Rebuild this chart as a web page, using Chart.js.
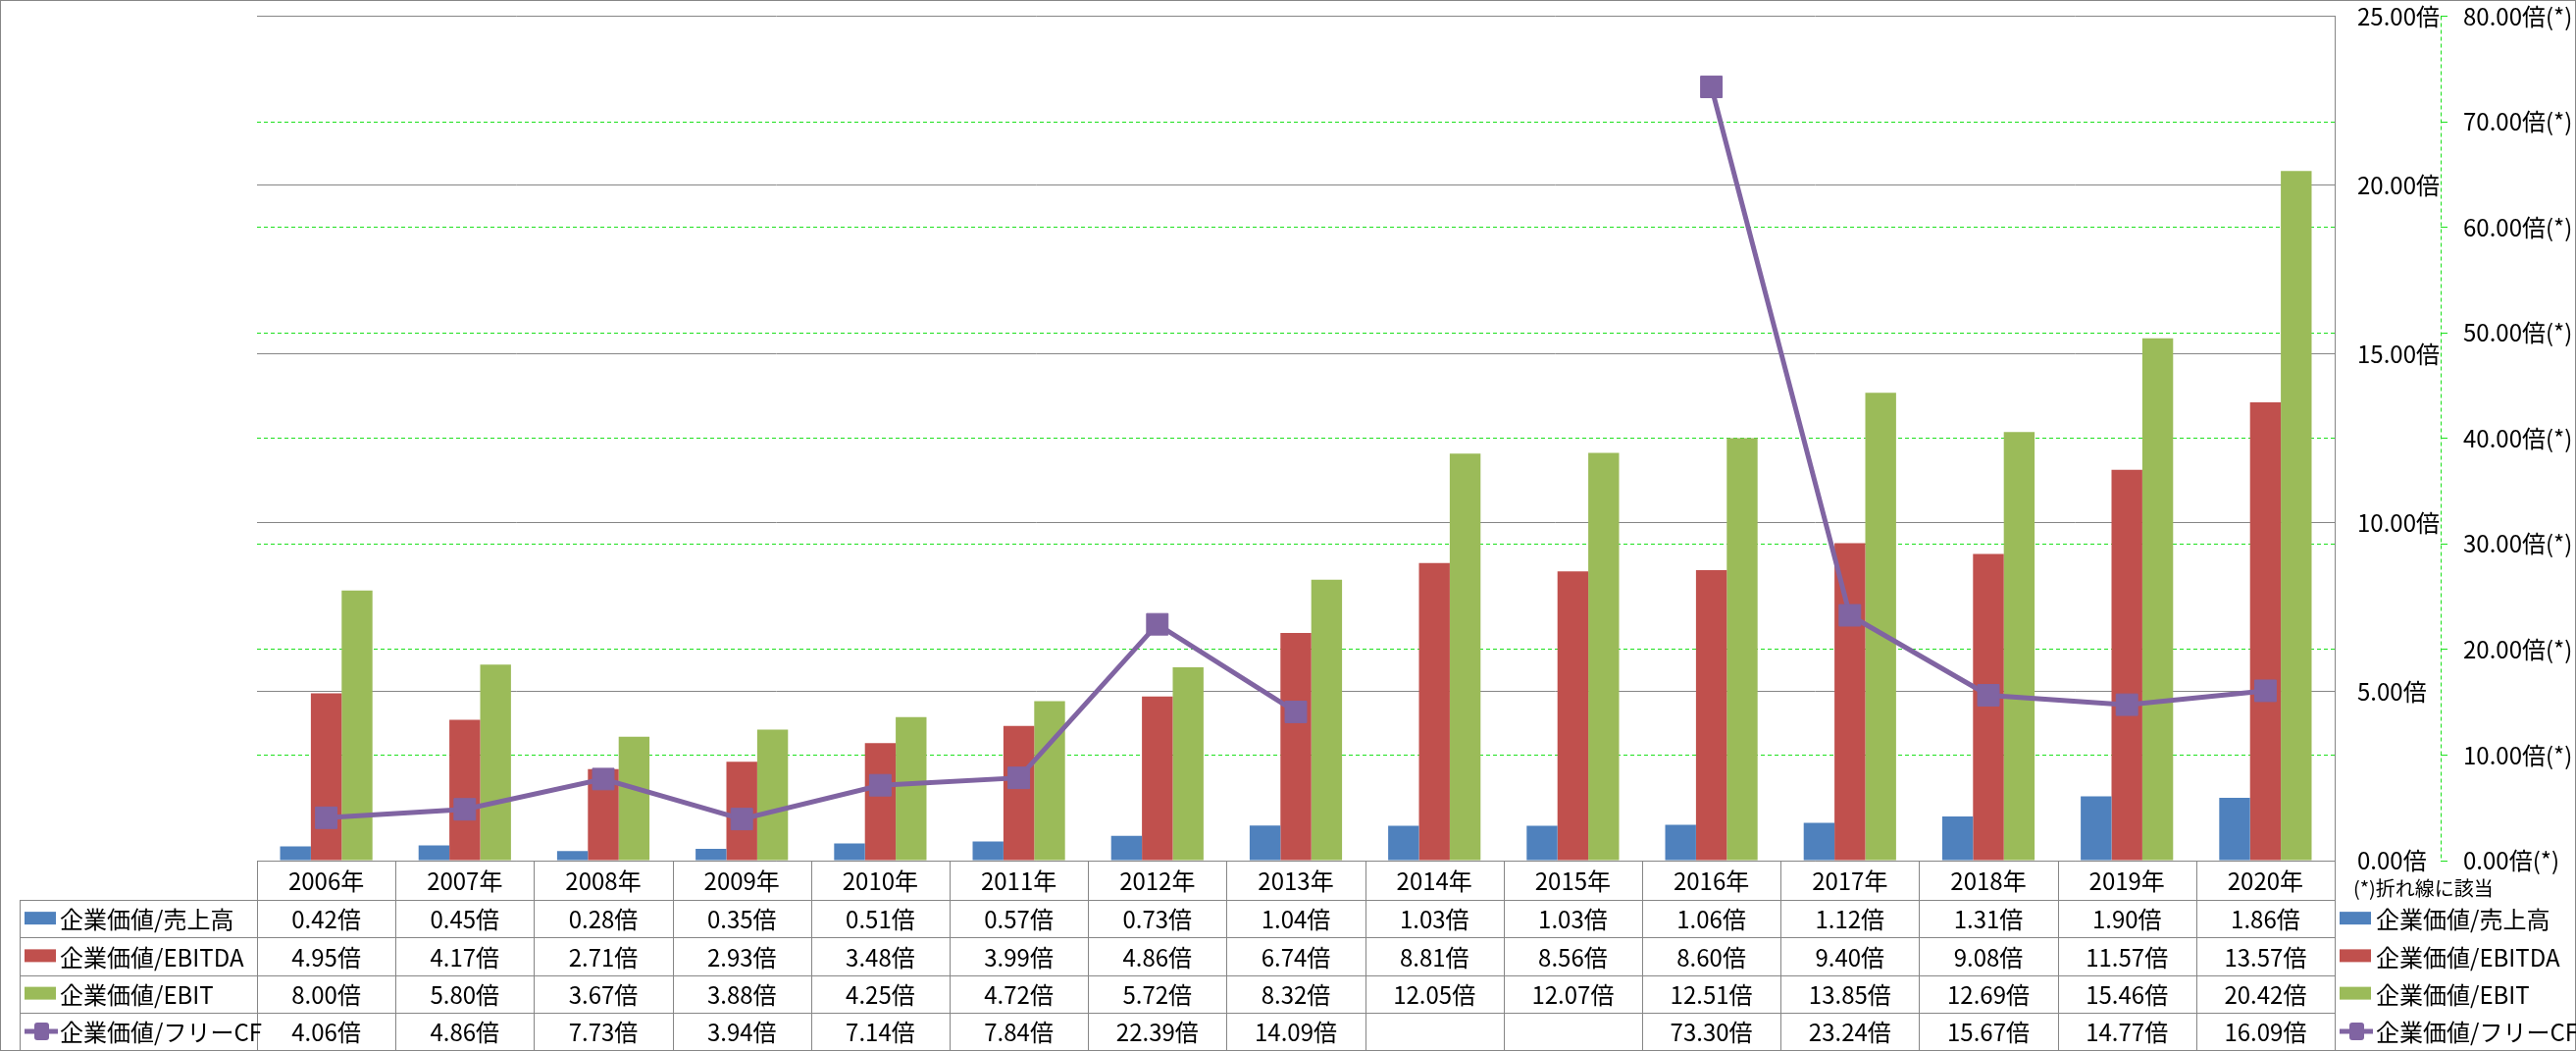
<!DOCTYPE html>
<html lang="ja">
<head>
<meta charset="utf-8">
<title>企業価値倍率の推移</title>
<script src="https://cdn.jsdelivr.net/npm/chart.js@4.4.1/dist/chart.umd.min.js"></script>
<style>
  html, body { margin: 0; padding: 0; background: #fff; }
  canvas { display: block; }
</style>
</head>
<body>
<canvas id="chart" width="2626" height="1071"></canvas>
<script>
"use strict";
// data
const years = ["2006年", "2007年", "2008年", "2009年", "2010年", "2011年", "2012年", "2013年",
  "2014年", "2015年", "2016年", "2017年", "2018年", "2019年", "2020年"];
const evSales = [0.42, 0.45, 0.28, 0.35, 0.51, 0.57, 0.73, 1.04, 1.03, 1.03, 1.06, 1.12, 1.31, 1.90, 1.86];
const evEbitda = [4.95, 4.17, 2.71, 2.93, 3.48, 3.99, 4.86, 6.74, 8.81, 8.56, 8.60, 9.40, 9.08, 11.57, 13.57];
const evEbit = [8.00, 5.80, 3.67, 3.88, 4.25, 4.72, 5.72, 8.32, 12.05, 12.07, 12.51, 13.85, 12.69, 15.46, 20.42];
const evFcf = [4.06, 4.86, 7.73, 3.94, 7.14, 7.84, 22.39, 14.09, null, null, 73.30, 23.24, 15.67, 14.77, 16.09];
const seriesNames = ["企業価値/売上高", "企業価値/EBITDA", "企業価値/EBIT", "企業価値/フリーCF"];
const barAxis = { min: 0, max: 25, step: 5, suffix: "倍" };
const lineAxis = { min: 0, max: 80, step: 10, suffix: "倍(*)" };
const noteText = "(*)折れ線に該当";

const FONT = '"Noto Sans CJK JP", "Noto Sans", sans-serif';
const GREY = "#868686";
const GREEN = "#1ee01e";
const colors = ["#4f81bd", "#c0504d", "#9bbb59", "#8064a2"];

function drawKey(ctx, kx, ky, i) {
  if (i < 3) {
    ctx.fillStyle = colors[i];
    ctx.fillRect(kx, ky - 7, 32, 13);
    return;
  }
  ctx.strokeStyle = colors[3];
  ctx.lineWidth = 5;
  ctx.setLineDash([]);
  ctx.beginPath();
  ctx.moveTo(kx, ky);
  ctx.lineTo(kx + 34, ky);
  ctx.stroke();
  ctx.fillStyle = colors[3];
  ctx.beginPath();
  ctx.roundRect(kx + 10, ky - 9, 15, 18, 3);
  ctx.fill();
}

// data table + legend keys under the plot, lined up with the category scale
const tablePlugin = {
  id: "dataTable",
  afterDraw(chart) {
    const ctx = chart.ctx, area = chart.chartArea;
    const xs = chart.scales.x, y2 = chart.scales.y2;
    const colW = (area.right - area.left) / years.length;
    const headH = 40, rowH = 38.25, labelLeft = 20;
    const top = area.bottom, rowTop = top + headH;
    const bottom = rowTop + rowH * 4;
    const rows = [evSales, evEbitda, evEbit, evFcf];

    ctx.save();
    ctx.strokeStyle = GREY;
    ctx.lineWidth = 1;
    ctx.beginPath();
    ctx.moveTo(area.left, Math.round(top) + 0.5);
    ctx.lineTo(area.right, Math.round(top) + 0.5);
    for (let r = 0; r <= 4; r++) {
      const yy = Math.round(rowTop + r * rowH) + 0.5;
      ctx.moveTo(labelLeft, yy);
      ctx.lineTo(area.right, yy);
    }
    for (let i = 0; i <= years.length; i++) {
      const xx = Math.round(area.left + i * colW) + 0.5;
      ctx.moveTo(xx, top);
      ctx.lineTo(xx, bottom);
    }
    ctx.moveTo(labelLeft + 0.5, rowTop);
    ctx.lineTo(labelLeft + 0.5, bottom);
    ctx.stroke();
    ctx.strokeRect(0.5, 0.5, chart.width - 1, chart.height - 1);

    ctx.fillStyle = "#000";
    ctx.font = "24px " + FONT;
    ctx.textAlign = "center";
    ctx.textBaseline = "middle";
    years.forEach((yr, i) => ctx.fillText(yr, xs.getPixelForValue(i), top + headH / 2 + 1));
    rows.forEach((vals, r) => vals.forEach((v, i) => {
      if (v !== null) ctx.fillText(v.toFixed(2) + "倍", xs.getPixelForValue(i), rowTop + r * rowH + rowH / 2 + 1);
    }));

    rows.forEach((_, r) => {
      const cy = rowTop + r * rowH + rowH / 2;
      drawKey(ctx, labelLeft + 5, cy, r);
      drawKey(ctx, area.right + 5, cy, r);
      ctx.fillStyle = "#000";
      ctx.font = "24px " + FONT;
      ctx.textAlign = "left";
      ctx.fillText(seriesNames[r], labelLeft + 41, cy + 1);
      ctx.fillText(seriesNames[r], area.right + 42, cy + 1);
    });

    ctx.font = "20px " + FONT;
    ctx.fillText(noteText, area.right + 19, top + 28);

    // dashed line of the right-hand (*) axis
    const ax = Math.round(y2.left) + 0.5;
    ctx.strokeStyle = GREEN;
    ctx.lineWidth = 1;
    ctx.setLineDash([4, 3]);
    ctx.beginPath();
    ctx.moveTo(ax, area.top);
    ctx.lineTo(ax, area.bottom);
    ctx.stroke();
    ctx.restore();
  }
};

const barSets = [evSales, evEbitda, evEbit].map((d, i) => ({
  type: "bar",
  label: seriesNames[i],
  data: d,
  backgroundColor: colors[i],
  yAxisID: "y",
  order: 2,
  barPercentage: 1,
  categoryPercentage: 0.667
}));

new Chart(document.getElementById("chart"), {
  data: {
    labels: years,
    datasets: barSets.concat([{
      type: "line",
      label: seriesNames[3],
      data: evFcf,
      yAxisID: "y2",
      order: 1,
      borderColor: colors[3],
      backgroundColor: colors[3],
      borderWidth: 5,
      tension: 0,
      spanGaps: false,
      pointStyle: "rect",
      pointRadius: 15.5,
      pointBorderWidth: 1,
      pointBackgroundColor: colors[3],
      pointBorderColor: colors[3]
    }])
  },
  options: {
    responsive: false,
    animation: false,
    layout: { padding: { left: 262, top: 16, bottom: 194, right: 0 } },
    plugins: { legend: { display: false }, tooltip: { enabled: false } },
    scales: {
      x: { display: false, offset: true },
      y: {
        position: "right",
        weight: 1,
        min: barAxis.min,
        max: barAxis.max,
        ticks: {
          stepSize: barAxis.step,
          padding: 23,
          color: "#000",
          font: { size: 24, family: FONT },
          callback: v => v.toFixed(2) + barAxis.suffix
        },
        grid: { color: GREY, drawTicks: false },
        border: { display: true, color: GREY },
        afterFit: s => { s.width = 108; s.paddingTop = 0; s.paddingBottom = 0; }
      },
      y2: {
        position: "right",
        weight: 2,
        min: lineAxis.min,
        max: lineAxis.max,
        ticks: {
          stepSize: lineAxis.step,
          padding: 16,
          color: "#000",
          font: { size: 24, family: FONT },
          callback: v => v.toFixed(2) + lineAxis.suffix
        },
        grid: {
          color: c => (c.tick && (c.tick.value === lineAxis.min || c.tick.value === lineAxis.max)) ? "rgba(0,0,0,0)" : GREEN,
          tickColor: GREEN,
          tickLength: 7
        },
        border: { display: false, dash: [4, 3] },
        afterFit: s => { s.width = 138; s.paddingTop = 0; s.paddingBottom = 0; }
      }
    }
  },
  plugins: [tablePlugin]
});
</script>
</body>
</html>
